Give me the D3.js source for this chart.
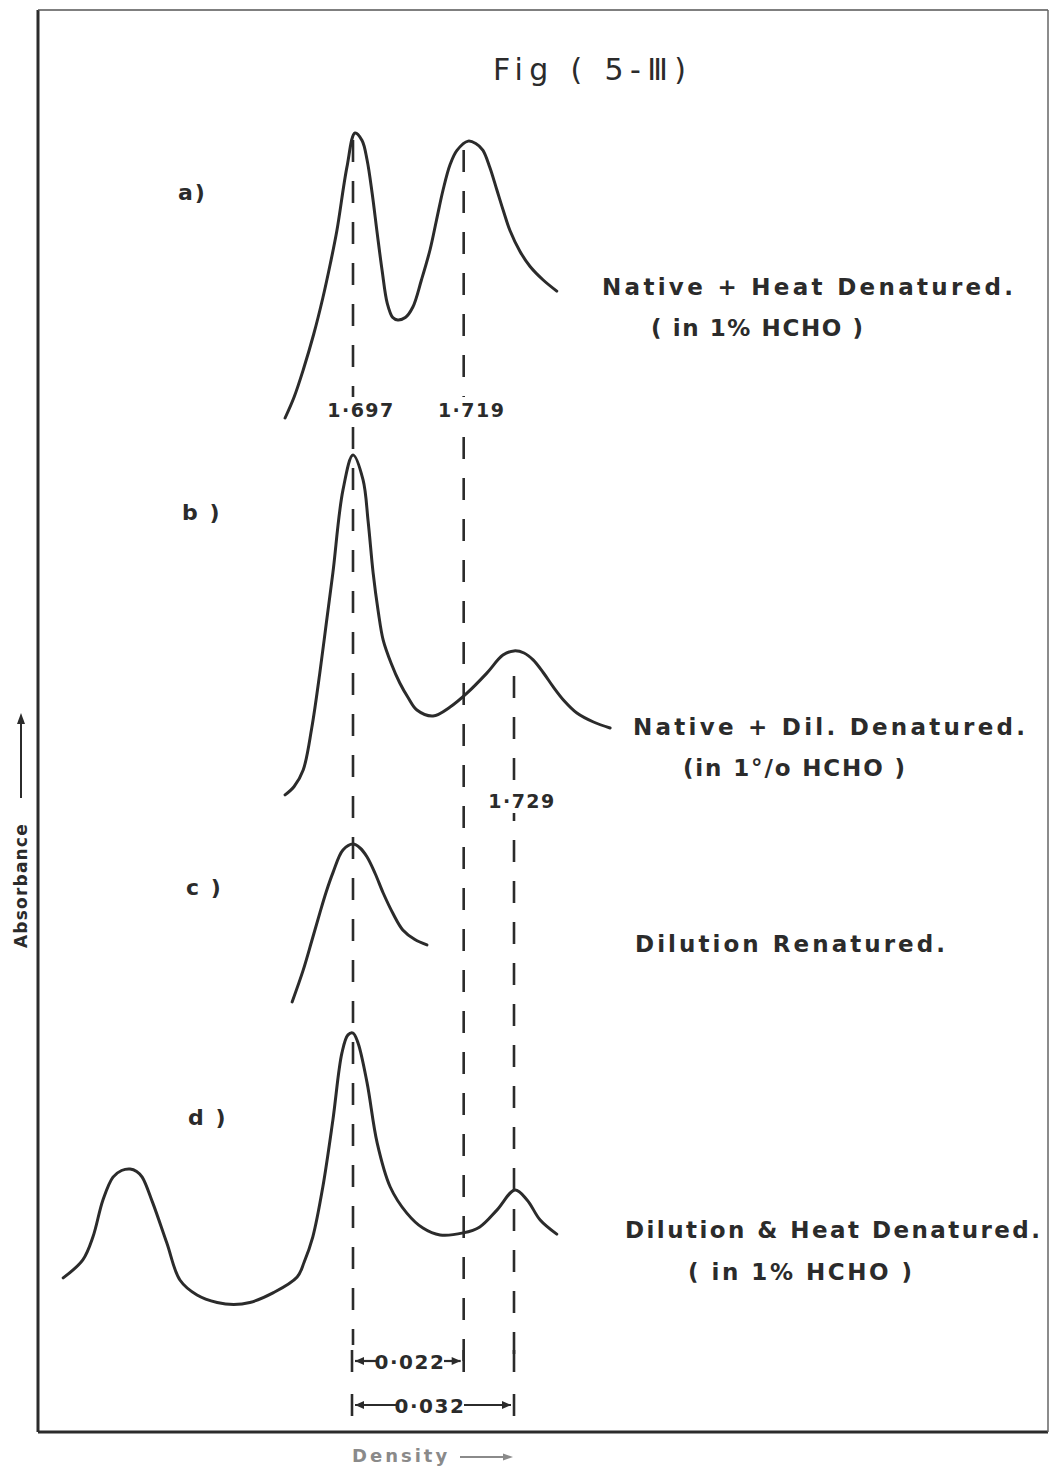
<!DOCTYPE html>
<html>
<head>
<meta charset="utf-8">
<script src="https://cdn.jsdelivr.net/npm/d3@7"></script>
<style>
  html, body { margin: 0; padding: 0; background: #fff; }
  svg text { font-family: "DejaVu Sans", "Liberation Sans", sans-serif; fill: #2b2b2b; }
</style>
</head>
<body>
<svg id="chart" width="1051" height="1470"></svg>
<script>
// Density gradient scans (absorbance vs buoyant density) for four DNA preparations.
const panelTags = ["a)", "b )", "c )", "d )"];
const panelTitles = [
  ["Native + Heat Denatured.", "( in 1% HCHO )"],
  ["Native + Dil. Denatured.", "(in 1°/o HCHO )"],
  ["Dilution  Renatured."],
  ["Dilution & Heat Denatured.", "( in 1% HCHO )"]
];

// Scan a: native + heat denatured
const densityA = [1.6835, 1.6853, 1.6871, 1.6892, 1.6910, 1.6925, 1.6938, 1.6958, 1.6974, 1.6988, 1.6998,
                  1.7008, 1.7018, 1.7028, 1.7038, 1.7049, 1.7059, 1.7074, 1.7089, 1.7106, 1.7123,
                  1.7136, 1.7149, 1.7163, 1.7177, 1.7199, 1.7214, 1.7228, 1.7242, 1.7256, 1.7269,
                  1.7282, 1.7302, 1.7322, 1.7348, 1.7375];
const absorbA  = [0.04, 0.11, 0.20, 0.32, 0.44, 0.555, 0.665, 0.877, 0.99, 0.965, 0.90,
                  0.79, 0.657, 0.53, 0.423, 0.375, 0.367, 0.375, 0.41, 0.50, 0.60,
                  0.70, 0.80, 0.885, 0.933, 0.963, 0.955, 0.933, 0.875, 0.80, 0.73,
                  0.665, 0.595, 0.545, 0.50, 0.463];

// Scan b: native + dilution denatured
const densityB = [1.6835, 1.6853, 1.6871, 1.6888, 1.6904, 1.6917, 1.6930, 1.6950, 1.6970, 1.6990, 1.7000,
                  1.7010, 1.7020, 1.7030, 1.7046, 1.7063, 1.7080, 1.7097, 1.7129, 1.7163, 1.7197,
                  1.7236, 1.7268, 1.7290, 1.7310, 1.7328, 1.7348, 1.7368, 1.7390, 1.7415, 1.7448, 1.7481];
const absorbB  = [0.017, 0.045, 0.10, 0.24, 0.423, 0.59, 0.757, 1.033, 1.15, 1.067, 0.93,
                  0.757, 0.63, 0.533, 0.455, 0.39, 0.34, 0.30, 0.28, 0.31, 0.357,
                  0.423, 0.483, 0.497, 0.49, 0.467, 0.425, 0.377, 0.33, 0.29, 0.26, 0.24];

// Scan c: dilution renatured
const densityC = [1.6849, 1.6871, 1.6888, 1.6904, 1.6917, 1.6930, 1.6950, 1.6970, 1.6984, 1.6998, 1.7014,
                  1.7030, 1.7050, 1.7069, 1.7093, 1.7117];
const absorbC  = [0.027, 0.133, 0.23, 0.323, 0.395, 0.457, 0.533, 0.553, 0.54, 0.51, 0.455,
                  0.39, 0.32, 0.267, 0.235, 0.217];

// Scan d: dilution & heat denatured (with marker band on the left)
const densityD = [1.6394, 1.6433, 1.6453, 1.6473, 1.6493, 1.6510, 1.6527, 1.6540, 1.6551, 1.6572, 1.6600, 1.6626,
                  1.6660, 1.6700, 1.6733, 1.6765, 1.6811, 1.6859, 1.6873, 1.6890, 1.6910, 1.6930, 1.6948,
                  1.6960, 1.6970, 1.6980, 1.6998, 1.7018, 1.7044, 1.7077, 1.7109, 1.7143, 1.7189,
                  1.7222, 1.7256, 1.7292, 1.7316, 1.7342, 1.7375];
const absorbD  = [0.107, 0.167, 0.243, 0.367, 0.443, 0.465, 0.47, 0.462, 0.443, 0.357, 0.223, 0.10,
                  0.05, 0.025, 0.018, 0.025, 0.057, 0.11, 0.16, 0.243, 0.41, 0.633, 0.857,
                  0.917, 0.923, 0.89, 0.757, 0.557, 0.41, 0.323, 0.273, 0.25, 0.257,
                  0.277, 0.333, 0.40, 0.367, 0.30, 0.253];

const densities = [densityA, densityB, densityC, densityD];
const absorbances = [absorbA, absorbB, absorbC, absorbD];

// Reference densities marked with dashed lines
const markDensity = [1.697, 1.719, 1.729];
const markLabel = ["1·697", "1·719", "1·729"];
const deltaLabels = ["0·022", "0·032"];

// ---------------- layout ----------------
const svg = d3.select("#chart");
const frame = { left: 38, top: 10, right: 1048, bottom: 1432 };
const ink = "#2b2b2b";

const x = d3.scaleLinear().domain([1.697, 1.729]).range([353, 514]);

// one vertical scale per scan (baseline pixel, height of one absorbance unit)
const baselines = [430, 800, 1010, 1310];
const unitPx = 300;
const yScales = baselines.map(b => d3.scaleLinear().domain([0, 1]).range([b, b - unitPx]));

// frame
svg.append("line").attr("x1", frame.left).attr("x2", frame.left).attr("y1", frame.top).attr("y2", frame.bottom)
  .attr("stroke", ink).attr("stroke-width", 3);
svg.append("line").attr("x1", frame.left).attr("x2", frame.right).attr("y1", frame.bottom).attr("y2", frame.bottom)
  .attr("stroke", ink).attr("stroke-width", 3);
svg.append("line").attr("x1", frame.left).attr("x2", frame.right).attr("y1", frame.top).attr("y2", frame.top)
  .attr("stroke", "#555").attr("stroke-width", 1.5);
svg.append("line").attr("x1", frame.right).attr("x2", frame.right).attr("y1", frame.top).attr("y2", frame.bottom)
  .attr("stroke", "#666").attr("stroke-width", 1.5);

// title
svg.append("text").attr("x", 493).attr("y", 80).attr("font-size", 30)
  .attr("textLength", 193).attr("lengthAdjust", "spacing").text("Fig ( 5-Ⅲ)");

// dashed reference lines
const dashSpans = [[140, 1345], [150, 1372], [676, 1372]];
const dashG = svg.append("g");
markDensity.forEach((d, i) => {
  dashG.append("line")
    .attr("x1", x(d)).attr("x2", x(d))
    .attr("y1", dashSpans[i][0]).attr("y2", dashSpans[i][1])
    .attr("stroke", ink).attr("stroke-width", 2.6)
    .attr("stroke-dasharray", "22 19");
});

// curves
const line = d3.line().curve(d3.curveCatmullRom.alpha(0.5));
densities.forEach((ds, i) => {
  const pts = ds.map((d, j) => [x(d), yScales[i](absorbances[i][j])]);
  svg.append("path").attr("d", line(pts))
    .attr("fill", "none").attr("stroke", ink).attr("stroke-width", 3)
    .attr("stroke-linecap", "round").attr("stroke-linejoin", "round");
});

// density labels on the dashed lines (with a white knock-out)
const labelPos = [[0, 417], [1, 417], [2, 808]];
labelPos.forEach(([i, y]) => {
  const cx = x(markDensity[i]) + 8;
  svg.append("rect").attr("x", cx - 33).attr("y", y - 20).attr("width", 66).attr("height", 25).attr("fill", "#fff");
  svg.append("text").attr("x", cx).attr("y", y).attr("text-anchor", "middle")
    .attr("font-size", 19).attr("font-weight", "bold").attr("letter-spacing", 1.5).text(markLabel[i]);
});

// panel tags
const tagPos = [[178, 200], [182, 520], [186, 895], [188, 1125]];
panelTags.forEach((t, i) => {
  svg.append("text").attr("x", tagPos[i][0]).attr("y", tagPos[i][1]).attr("font-size", 22)
    .attr("font-weight", "bold").attr("letter-spacing", 2).text(t);
});

// panel descriptions
const descPos = [
  [[602, 295, 411], [651, 336, 212]],
  [[633, 735, 392], [683, 776, 222]],
  [[635, 952, 310]],
  [[625, 1238, 415], [688, 1280, 224]]
];
panelTitles.forEach((lines, i) => {
  lines.forEach((s, k) => {
    const [px, py, w] = descPos[i][k];
    svg.append("text").attr("x", px).attr("y", py).attr("font-size", 23).attr("font-weight", "bold")
      .attr("textLength", w).attr("lengthAdjust", "spacing").text(s);
  });
});

// separation markers between bands
function arrowHead(g, xTip, y, dir) {
  g.append("path")
    .attr("d", `M${xTip},${y} L${xTip - dir * 9},${y - 4} L${xTip - dir * 9},${y + 4} Z`)
    .attr("fill", ink);
}
const dims = [
  { from: markDensity[0], to: markDensity[1], y: 1361, text: deltaLabels[0], tx: [378, 442] },
  { from: markDensity[0], to: markDensity[2], y: 1405, text: deltaLabels[1], tx: [398, 462] }
];
const dimG = svg.append("g");
dims.forEach(dm => {
  const x1 = x(dm.from) - 1, x2 = x(dm.to);
  [x1, x2].forEach(xx => dimG.append("line").attr("x1", xx).attr("x2", xx)
    .attr("y1", dm.y - 11).attr("y2", dm.y + 11).attr("stroke", ink).attr("stroke-width", 2.6));
  dimG.append("line").attr("x1", x1 + 3).attr("x2", dm.tx[0] - 2).attr("y1", dm.y).attr("y2", dm.y)
    .attr("stroke", ink).attr("stroke-width", 2.2);
  arrowHead(dimG, x1 + 3, dm.y, -1);
  dimG.append("line").attr("x1", dm.tx[1] + 2).attr("x2", x2 - 3).attr("y1", dm.y).attr("y2", dm.y)
    .attr("stroke", ink).attr("stroke-width", 2.2);
  arrowHead(dimG, x2 - 3, dm.y, 1);
  dimG.append("text").attr("x", (dm.tx[0] + dm.tx[1]) / 2).attr("y", dm.y + 8)
    .attr("text-anchor", "middle").attr("font-size", 20).attr("font-weight", "bold")
    .attr("letter-spacing", 1.5).text(dm.text);
});
// tick on the 1·729 line level with the first marker
dimG.append("line").attr("x1", x(markDensity[2])).attr("x2", x(markDensity[2]))
  .attr("y1", 1350).attr("y2", 1372).attr("stroke", ink).attr("stroke-width", 2.6);

// axis titles
const absG = svg.append("g").attr("transform", "translate(27,948) rotate(-90)");
absG.append("text").attr("x", 0).attr("y", 0).attr("font-size", 17).attr("font-weight", "bold")
  .attr("letter-spacing", 1.2).text("Absorbance");
absG.append("line").attr("x1", 150).attr("x2", 228).attr("y1", -6).attr("y2", -6)
  .attr("stroke", ink).attr("stroke-width", 2);
absG.append("path").attr("d", "M235,-6 L224,-10 L224,-2 Z").attr("fill", ink);

const denG = svg.append("g");
denG.append("text").attr("x", 352).attr("y", 1462).attr("font-size", 18).attr("font-weight", "bold")
  .attr("letter-spacing", 3).style("fill", "#8a8a8a").text("Density");
denG.append("line").attr("x1", 460).attr("x2", 505).attr("y1", 1457).attr("y2", 1457)
  .attr("stroke", "#8a8a8a").attr("stroke-width", 2);
denG.append("path").attr("d", "M513,1457 L503,1453.5 L503,1460.5 Z").attr("fill", "#8a8a8a");
</script>
</body>
</html>
